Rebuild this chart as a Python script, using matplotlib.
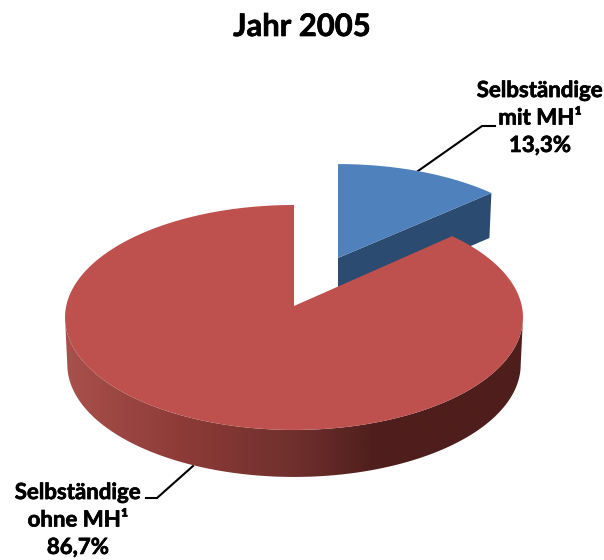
import numpy as np
import matplotlib
matplotlib.use("Agg")
import matplotlib.pyplot as plt
import matplotlib.patheffects as pe
from matplotlib.colors import LinearSegmentedColormap
from matplotlib.patches import Polygon

title = "Jahr 2005"
labels = ["Selbständige\nmit MH¹\n13,3%", "Selbständige\nohne MH¹\n86,7%"]
shares = [13.3, 86.7]
colors_top = ["#4F81BD", "#BE504D"]
color_blue_side = "#2C4B70"

# pie projection, in pixels of the picture
cx, cy = 294, 306
bx, by = 227.8, 111.3
k = 0.102          # perspective
depth = 47
shrink = 0.99      # bottom disc is a bit narrower

# blue slice is moved back and looks a bit smaller
blue_shift = (44, -48)
blue_scale = (0.97, 0.93)


def project(u, v, bottom=False):
    s = 1 / (1 + k * v)
    x = cx + bx * u * s
    y = cy - by * v * s
    if bottom:
        x = cx + (x - cx) * shrink
        y = y + depth
    return x, y


def wedge(start, end, n=200):
    # angles clockwise from 12 o'clock, in degrees
    t = np.radians(np.linspace(start, end, n))
    return np.r_[0.0, np.sin(t)], np.r_[0.0, np.cos(t)]


fig = plt.figure(figsize=(6.04, 5.60), dpi=100)
ax = fig.add_axes([0, 0, 1, 1])
ax.set_xlim(0, 604)
ax.set_ylim(560, 0)
ax.axis("off")

blue_angle = shares[0] / sum(shares) * 360

# blue slice
u, v = wedge(0, blue_angle)
xb0, yb0 = project(u, v)
xb0 = cx + blue_shift[0] + (xb0 - cx) * blue_scale[0]
yb0 = cy + blue_shift[1] + (yb0 - cy) * blue_scale[1]
ax.add_patch(Polygon([(xb0[0], yb0[0]), (xb0[-1], yb0[-1]),
                      (xb0[-1] - 2, yb0[-1] + depth - 2), (xb0[0], yb0[0] + depth - 2)],
                     facecolor=color_blue_side, edgecolor="none", zorder=2))
ax.add_patch(Polygon(np.column_stack((xb0, yb0)),
                     facecolor=colors_top[0], edgecolor="none", zorder=3))

# red slice side, shaded from left to right
side_cmap = LinearSegmentedColormap.from_list(
    "side", [(0, "#A8504C"), (0.25, "#8E3B38"), (0.5, "#70302D"),
             (0.68, "#4E1E1C"), (1, "#4E1E1C")])
a = np.radians(np.linspace(180 + 5.9, 360 - 5.9, 300))
xt, yt = project(np.cos(a), np.sin(a))
xb, yb = project(np.cos(a), np.sin(a), bottom=True)
side = Polygon(np.r_[np.column_stack((xt, yt)), np.column_stack((xb, yb))[::-1]],
               facecolor="none", edgecolor="none")
ax.add_patch(side)
img = ax.imshow(np.linspace(0, 1, 460).reshape(1, -1), cmap=side_cmap, aspect="auto",
                extent=[xt.min(), xt.max(), yb.max(), yt.min()], zorder=4)
img.set_clip_path(side)
ax.set_xlim(0, 604)
ax.set_ylim(560, 0)

# red slice top
u, v = wedge(blue_angle, 360)
ax.add_patch(Polygon(np.column_stack(project(u, v)),
                     facecolor=colors_top[1], edgecolor="none", zorder=5))

# leader lines
ax.plot([418, 482, 495], [171, 126, 126], color="black", lw=1.5, zorder=1,
        solid_joinstyle="miter")
ax.plot([193, 157, 146], [466, 498, 498], color="black", lw=1.5, zorder=1,
        solid_joinstyle="miter")

font = "Lato"
# the original font is heavier than Lato Bold
stroke = [pe.withStroke(linewidth=0.5, foreground="black")]
ax.text(302, 27, title, fontsize=22.3, fontweight="bold", family=font,
        ha="center", va="center", color="black", path_effects=stroke)
ax.text(540, 118, labels[0], fontsize=16, fontweight="bold", family=font,
        ha="center", va="center", linespacing=1.38, color="black", path_effects=stroke)
ax.text(78, 520, labels[1], fontsize=16, fontweight="bold", family=font,
        ha="center", va="center", linespacing=1.38, color="black", path_effects=stroke)

fig.savefig("out.png", dpi=100, facecolor="white")
plt.close(fig)
